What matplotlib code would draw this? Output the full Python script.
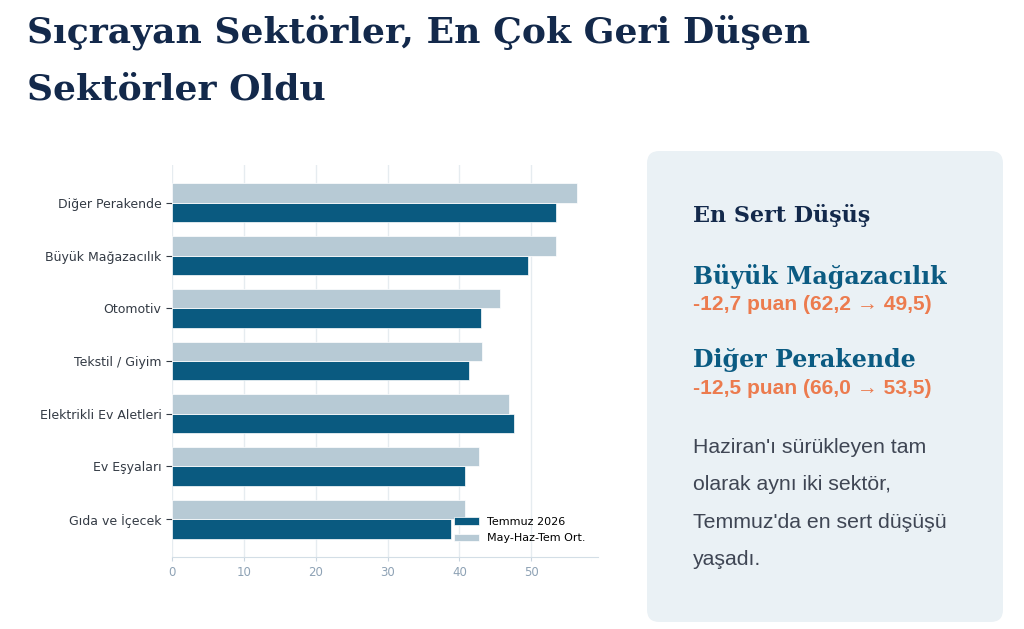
import matplotlib
matplotlib.use("Agg")
import matplotlib.pyplot as plt
from matplotlib.patches import FancyBboxPatch
import numpy as np

# data (top to bottom as shown)
sektorler = ["Diğer Perakende", "Büyük Mağazacılık", "Otomotiv", "Tekstil / Giyim",
             "Elektrikli Ev Aletleri", "Ev Eşyaları", "Gıda ve İçecek"]
temmuz = [53.5, 49.5, 43.0, 41.3, 47.6, 40.8, 38.8]
ort = [56.4, 53.5, 45.6, 43.2, 46.9, 42.7, 40.8]

koyu = "#0a5a80"
acik = "#b7cad5"
lacivert = "#13294b"
serif = "DejaVu Serif"

W, H = 1024, 629
fig = plt.figure(figsize=(W / 100, H / 100), dpi=100)
fig.patch.set_facecolor("white")

def fx(px):
    return px / W

def fy(py):
    return 1 - py / H

# title
fig.text(fx(27), fy(43), "Sıçrayan Sektörler, En Çok Geri Düşen", fontsize=26,
         fontweight="bold", family=serif, color=lacivert, va="baseline")
fig.text(fx(27), fy(99), "Sektörler Oldu", fontsize=26,
         fontweight="bold", family=serif, color=lacivert, va="baseline")

# bar chart
ax = fig.add_axes([fx(172), fy(557), fx(598) - fx(172), fy(165) - fy(557)])
y = np.arange(len(sektorler))
h = 0.37
ax.barh(y + h / 2, temmuz, height=h, color=koyu, edgecolor="white", linewidth=0.5,
        label="Temmuz 2026", zorder=3)
ax.barh(y - h / 2, ort, height=h, color=acik, edgecolor="white", linewidth=0.5,
        label="May-Haz-Tem Ort.", zorder=3)
ax.set_yticks(y)
ax.set_yticklabels(sektorler, fontsize=9, color="#333a44")
ax.set_ylim(len(sektorler) - 1 + 0.72, -0.72)
ax.set_xlim(0, 59.3)
ax.set_xticks([0, 10, 20, 30, 40, 50])
ax.tick_params(axis="x", colors="#8ea2b5", labelsize=8.5, length=3, color="#c9d6e0")
ax.tick_params(axis="y", length=4, color="#333a44")
ax.grid(axis="x", color="#e6ecf0", linewidth=1, zorder=0)
for s in ["top", "right", "left"]:
    ax.spines[s].set_visible(False)
ax.spines["bottom"].set_color("#d3dee6")
ax.set_facecolor("white")
ax.legend(loc="lower right", frameon=False, fontsize=8, handlelength=2.2,
          handleheight=0.7, borderaxespad=0.3, labelspacing=0.55,
          bbox_to_anchor=(0.99, 0.015))

# side panel
panel = FancyBboxPatch((fx(647), fy(622)), fx(1003) - fx(647), fy(151) - fy(622),
                       boxstyle="round,pad=0,rounding_size=0.012",
                       transform=fig.transFigure, facecolor="#eaf1f5",
                       edgecolor="none", mutation_aspect=W / H)
fig.patches.append(panel)

fig.text(fx(693), fy(222), "En Sert Düşüş", fontsize=16, fontweight="bold",
         family=serif, color=lacivert, va="baseline")
fig.text(fx(693), fy(284), "Büyük Mağazacılık", fontsize=17.1, fontweight="bold",
         family=serif, color="#0b5b82", va="baseline")
fig.text(fx(693), fy(310), "-12,7 puan (62,2 → 49,5)", fontsize=15.1, fontweight="bold",
         family=["Liberation Sans", "DejaVu Sans"], color="#ec7b4e", va="baseline")
fig.text(fx(693), fy(367), "Diğer Perakende", fontsize=17.1, fontweight="bold",
         family=serif, color="#0b5b82", va="baseline")
fig.text(fx(693), fy(394), "-12,5 puan (66,0 → 53,5)", fontsize=15.1, fontweight="bold",
         family=["Liberation Sans", "DejaVu Sans"], color="#ec7b4e", va="baseline")

govde = ["Haziran'ı sürükleyen tam", "olarak aynı iki sektör,",
         "Temmuz'da en sert düşüşü", "yaşadı."]
for i, satir in enumerate(govde):
    fig.text(fx(693), fy(453 + i * 37.3), satir, fontsize=15.3,
             family="Liberation Sans", color="#3f4654", va="baseline")

fig.savefig("out.png", dpi=100)
